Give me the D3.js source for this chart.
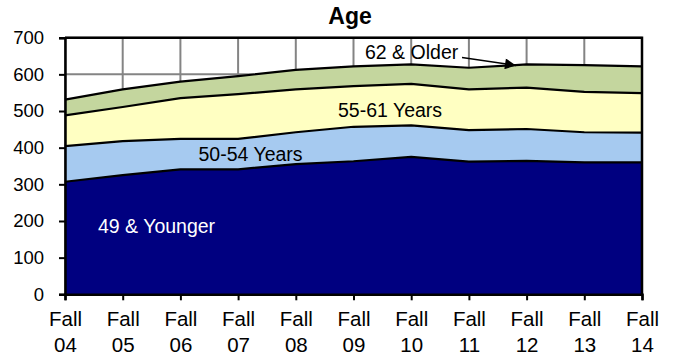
<!DOCTYPE html>
<html>
<head>
<meta charset="utf-8">
<script src="https://cdn.jsdelivr.net/npm/d3@7/dist/d3.min.js"></script>
<style>
  body { margin: 0; background: #fff; }
  text { font-family: "Liberation Sans", Arial, sans-serif; }
</style>
</head>
<body>
<svg id="chart" width="674" height="356"></svg>
<script>
// Enrollment by age group, Fall 2004 - Fall 2014 (stacked)
const categories = ["Fall 04", "Fall 05", "Fall 06", "Fall 07", "Fall 08", "Fall 09",
                    "Fall 10", "Fall 11", "Fall 12", "Fall 13", "Fall 14"];
const age49Younger = [307, 325, 341, 341, 355, 363, 375, 362, 364, 360, 360];
const age50to54    = [97, 93, 83, 83, 87, 94, 86, 86, 87, 82, 81];
const age55to61    = [84, 93, 111, 122, 117, 111, 113, 111, 113, 110, 108];
const age62Older   = [43, 48, 45, 49, 53, 54, 53, 59, 63, 73, 73];
const seriesKeys   = ["49 & Younger", "50-54 Years", "55-61 Years", "62 & Older"];
const seriesColors = ["#000080", "#a6caf0", "#ffffc2", "#c4d69e"];
const yTicks = [0, 100, 200, 300, 400, 500, 600, 700];

const rows = categories.map((c, i) => ({
  cat: c,
  "49 & Younger": age49Younger[i],
  "50-54 Years": age50to54[i],
  "55-61 Years": age55to61[i],
  "62 & Older": age62Older[i]
}));

const svg = d3.select("#chart");
const plot = { left: 65, right: 642, top: 37.7, bottom: 294.3 };

const x = d3.scalePoint().domain(categories).range([plot.left, plot.right]);
const y = d3.scaleLinear().domain([0, 700]).range([plot.bottom, plot.top]);

// gridlines
const grid = svg.append("g").attr("stroke", "#848484").attr("stroke-width", 2);
grid.selectAll("line.h").data(yTicks).join("line")
  .attr("x1", plot.left).attr("x2", plot.right)
  .attr("y1", d => y(d)).attr("y2", d => y(d));
grid.selectAll("line.v").data(categories).join("line")
  .attr("x1", d => x(d)).attr("x2", d => x(d))
  .attr("y1", plot.top).attr("y2", plot.bottom);

// stacked areas
const stacked = d3.stack().keys(seriesKeys)(rows);
const area = d3.area()
  .x(d => x(d.data.cat))
  .y0(d => y(d[0]))
  .y1(d => y(d[1]));
const topLine = d3.line()
  .x(d => x(d.data.cat))
  .y(d => y(d[1]));

svg.append("g").selectAll("path").data(stacked).join("path")
  .attr("d", area)
  .attr("fill", (d, i) => seriesColors[i]);
svg.append("g").selectAll("path").data(stacked).join("path")
  .attr("d", topLine)
  .attr("fill", "none")
  .attr("stroke", "#000")
  .attr("stroke-width", 2.2)
  .attr("stroke-linejoin", "round");

// plot border (top and right)
svg.append("path")
  .attr("d", `M${plot.left},${plot.top}H${plot.right}V${plot.bottom}`)
  .attr("fill", "none").attr("stroke", "#000").attr("stroke-width", 2.5);

// y axis
const yAxis = svg.append("g")
  .attr("transform", `translate(${plot.left},0)`)
  .call(d3.axisLeft(y).tickValues(yTicks).tickSize(6).tickPadding(15));
yAxis.select(".domain").attr("stroke", "#000").attr("stroke-width", 2.5);
yAxis.selectAll(".tick line").attr("stroke", "#000").attr("stroke-width", 2);
yAxis.selectAll(".tick text")
  .attr("font-size", "18.5px").attr("fill", "#000")
  .style("font-family", "'Liberation Sans', Arial, sans-serif");

// x axis with two-line labels
const xAxis = svg.append("g")
  .attr("transform", `translate(0,${plot.bottom})`)
  .call(d3.axisBottom(x).tickSize(6).tickFormat(""));
xAxis.select(".domain").attr("stroke", "#000").attr("stroke-width", 2.5);
xAxis.selectAll(".tick line").attr("stroke", "#000").attr("stroke-width", 2);
xAxis.selectAll(".tick").each(function (d) {
  const parts = d.split(" ");
  const t = d3.select(this).append("text")
    .attr("fill", "#000").attr("font-size", "20.5px")
    .attr("text-anchor", "middle")
    .style("font-family", "'Liberation Sans', Arial, sans-serif");
  t.append("tspan").attr("x", 0).attr("y", 32.2).text(parts[0]);
  t.append("tspan").attr("x", 0).attr("y", 58.2).text(parts[1]);
});

// title
svg.append("text")
  .attr("x", 350).attr("y", 24)
  .attr("text-anchor", "middle")
  .attr("font-size", "23px").attr("font-weight", "bold")
  .text("Age");

// series labels
const labelFont = "19.5px";
svg.append("text").attr("x", 98).attr("y", 233.3)
  .attr("font-size", labelFont).attr("fill", "#fff").text("49 & Younger");
svg.append("text").attr("x", 198.5).attr("y", 161)
  .attr("font-size", labelFont).attr("fill", "#000").text("50-54 Years");
svg.append("text").attr("x", 338).attr("y", 117.3)
  .attr("font-size", labelFont).attr("fill", "#000").text("55-61 Years");
svg.append("text").attr("x", 365).attr("y", 58.7)
  .attr("font-size", labelFont).attr("fill", "#000").text("62 & Older");

// callout arrow for the 62 & Older band
svg.append("defs").append("marker")
  .attr("id", "arrowHead")
  .attr("viewBox", "0 0 10 10")
  .attr("refX", 10).attr("refY", 5)
  .attr("markerUnits", "userSpaceOnUse")
  .attr("markerWidth", 14).attr("markerHeight", 11)
  .attr("orient", "auto")
  .append("path").attr("d", "M0,0L10,5L0,10Z").attr("fill", "#000");
svg.append("line")
  .attr("x1", 462).attr("y1", 57.5)
  .attr("x2", 516).attr("y2", 65.5)
  .attr("stroke", "#000").attr("stroke-width", 1.5)
  .attr("marker-end", "url(#arrowHead)");
</script>
</body>
</html>
